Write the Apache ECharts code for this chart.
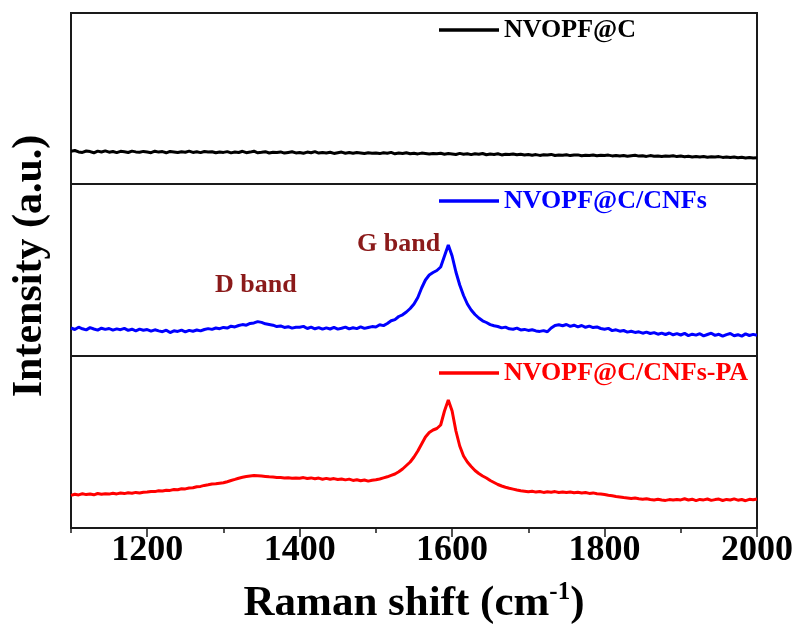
<!DOCTYPE html>
<html>
<head>
<meta charset="utf-8">
<script src="https://cdn.jsdelivr.net/npm/echarts@6/dist/echarts.min.js"></script>
<style>
  html, body { margin: 0; padding: 0; background: #fff; }
  #chart { width: 803px; height: 633px; }
</style>
</head>
<body>
<div id="chart"></div>
<script>
// Raman spectra, 1100-2000 cm-1 sampled every 5 cm-1
const shiftStart = 1100;
const shiftEnd = 2000;
const shiftStep = 5;

const seriesNames = ['NVOPF@C', 'NVOPF@C/CNFs', 'NVOPF@C/CNFs-PA'];

// intensity (a.u.), one value per 5 cm-1
const intensityNVOPF = [
  32.8, 33.5, 32.1, 31.6, 33.0, 32.4, 31.2, 32.9, 32.0, 33.1, 31.8, 32.5, 31.4, 32.7, 32.2, 31.5, 32.9, 32.1, 31.7, 32.6,
  32.0, 31.3, 32.8, 31.9, 32.4, 31.2, 32.6, 32.1, 31.5, 32.3, 31.8, 32.9, 31.6, 32.2, 31.4, 32.5, 31.9, 32.3, 31.2, 32.0,
  31.6, 32.4, 31.1, 32.0, 31.5, 32.7, 31.3, 31.9, 32.8, 31.2, 31.7, 32.3, 31.0, 31.8, 31.4, 32.1, 30.9, 31.6, 32.2, 31.1,
  31.5, 30.8, 31.9, 31.2, 32.4, 30.9, 31.6, 31.0, 31.8, 30.6, 31.3, 31.9, 30.8, 31.4, 30.7, 31.5, 31.1, 30.5, 31.2, 30.8,
  31.0, 30.4, 31.3, 30.7, 31.6, 30.2, 30.9, 30.5, 31.2, 30.3, 30.8, 30.1, 30.9, 30.4, 29.9, 30.6, 30.2, 30.8, 29.8, 30.4,
  30.0, 29.5, 30.6, 29.8, 30.2, 29.4, 30.3, 29.7, 30.5, 29.3, 29.9, 29.6, 30.2, 29.1, 29.8, 29.4, 30.0, 29.2, 29.7, 29.0,
  29.5, 28.8, 29.4, 28.6, 29.2, 28.9, 29.6, 28.5, 29.0, 28.7, 29.3, 28.4, 28.9, 29.1, 28.3, 28.8, 28.5, 29.0, 28.2, 28.7,
  28.4, 28.9, 28.1, 28.6, 28.0, 28.5, 27.8, 28.3, 28.7, 27.9, 28.2, 27.6, 28.4, 27.8, 28.1, 27.5, 28.0, 27.7, 28.3, 27.4,
  27.9, 27.3, 27.8, 27.1, 27.6, 27.0, 27.5, 26.8, 27.2, 26.9, 27.4, 26.6, 27.0, 26.4, 26.9, 26.2, 26.7, 26.0, 26.5, 25.9,
  26.2
];

const intensityCNFs = [
  28.0, 26.5, 28.8, 27.2, 26.1, 28.4, 27.0, 25.9, 27.8, 26.6, 27.5, 25.8, 27.1, 26.3, 27.6, 25.6, 26.8, 25.2, 26.9, 25.7,
  26.4, 24.9, 26.2, 25.1, 24.3, 25.8, 23.4, 25.2, 24.6, 25.9, 24.2, 25.6, 24.8, 26.0, 25.1, 26.5, 27.4, 26.6, 28.0, 27.3,
  28.6, 27.9, 29.8, 29.1, 30.5, 31.4, 30.8, 32.6, 33.1, 34.4, 33.6, 32.2, 31.5, 30.8, 29.4, 30.1, 28.6, 29.3, 27.9, 28.7,
  28.8, 29.6, 27.5, 28.9, 27.2, 28.4, 26.8, 28.1, 27.0, 28.6, 26.9, 27.8, 28.9, 27.1, 28.2, 27.4, 29.1, 27.6, 28.5, 29.4,
  29.0, 31.2, 30.4, 32.5, 35.2, 36.4, 39.5, 41.2, 44.0, 47.5, 52.0, 58.5, 68.0, 76.0, 81.0, 83.5, 85.5, 89.0, 100.0, 111.0,
  100.0, 84.0, 71.0, 60.5, 52.0, 46.0, 41.5, 38.0, 35.2, 33.5, 31.4, 30.2, 29.5, 28.1, 28.9, 27.2, 26.8, 27.9, 26.1, 26.6,
  25.6, 26.3, 25.1, 24.6, 25.4, 24.2, 28.0, 30.6, 31.2, 30.3, 31.5, 29.6, 30.8, 29.2, 30.5, 28.7, 29.9, 28.4, 29.1, 27.5,
  26.8, 27.6, 25.4, 26.2, 24.8, 25.5, 23.9, 24.7, 23.6, 24.2, 22.8, 23.9, 22.5, 23.4, 21.8, 22.9, 21.5, 23.0, 21.2, 22.4,
  21.0, 22.6, 20.4, 21.8, 20.9, 22.3, 20.1, 21.5, 22.8, 20.6, 21.7, 19.8, 21.4, 22.5, 20.2, 21.3, 19.9, 22.1, 20.5, 21.6,
  20.8
];

const intensityCNFsPA = [
  32.6, 33.8, 33.1, 34.2, 33.4, 34.0, 33.2, 34.5, 33.7, 34.3, 33.9, 34.8, 34.1, 35.0, 34.4, 35.2, 34.7, 35.6, 35.0, 35.8,
  36.0, 36.6, 36.4, 37.3, 37.0, 37.8, 37.6, 38.5, 38.3, 39.2, 39.1, 40.0, 40.2, 41.2, 41.6, 42.6, 43.2, 44.0, 44.3, 44.8,
  45.2, 46.3, 47.5, 48.6, 49.8, 50.7, 51.4, 52.0, 52.5, 52.3, 52.0, 51.6, 51.2, 50.9, 50.6, 50.4, 50.1, 50.3, 49.8, 50.0,
  49.8, 50.4, 49.5, 50.1, 49.2, 49.9, 48.8, 49.6, 48.7, 49.4, 48.5, 49.0, 48.1, 48.9, 47.6, 48.3, 47.2, 48.0, 46.9, 47.8,
  48.2, 49.0, 50.1, 51.2, 52.6, 54.0, 56.2, 59.0, 62.5, 66.0, 71.0, 77.0, 84.0, 91.0, 95.5, 98.0, 99.5, 103.0, 117.0, 128.0,
  117.0, 97.0, 82.0, 72.0, 66.0, 61.5, 57.5, 54.5, 52.0, 50.0, 47.5, 45.5, 43.5, 42.0, 40.8, 39.8, 38.9, 38.0, 37.2, 36.8,
  36.2, 36.8, 35.9, 36.5, 35.6, 36.3, 35.8, 36.4, 35.5, 36.1, 35.4, 36.0, 35.2, 35.8, 35.0, 35.5, 34.6, 35.1, 34.2, 34.0,
  33.5, 32.8, 32.2, 31.5, 31.0, 30.4, 30.1, 29.6, 29.9, 29.2, 28.8, 29.3, 28.5, 28.1, 28.7, 28.0, 27.6, 28.4, 27.9, 28.6,
  28.1, 29.2, 28.0, 28.8, 27.4, 28.6, 28.1, 29.0, 27.6, 28.4, 28.9, 27.5, 28.6, 28.0, 29.1, 27.8, 28.5, 27.3, 28.7, 28.2,
  28.9
];

const majorTicks = [1200, 1400, 1600, 1800, 2000];
const minorTicks = [1100, 1300, 1500, 1700, 1900];

const bandLabels = ['D band', 'G band'];

// wavenumber grid the spectra were sampled on
const ramanShift = [];
for (let v = shiftStart; v <= shiftEnd; v += shiftStep) ramanShift.push(v);

const pair = arr => ramanShift.map((x, i) => [x, arr[i]]);

const colors = ['#000000', '#0000ff', '#ff0000'];
const spectra = [intensityNVOPF, intensityCNFs, intensityCNFsPA];
const serif = '"Liberation Serif", "Times New Roman", serif';

// three stacked panels sharing one wavenumber axis
const panels = [
  { top: 13, height: 171 },
  { top: 184, height: 172 },
  { top: 356, height: 172 }
];

const grid = panels.map(p => ({
  left: 71, right: 46, top: p.top, height: p.height,
  show: true, borderColor: '#1a1a1a', borderWidth: 2, backgroundColor: 'transparent'
}));

const hiddenX = i => ({
  type: 'value', gridIndex: i, min: shiftStart, max: shiftEnd,
  axisLine: { show: false }, axisTick: { show: false },
  axisLabel: { show: false }, splitLine: { show: false }
});

const xAxis = [
  hiddenX(0),
  hiddenX(1),
  {
    type: 'value', gridIndex: 2, position: 'bottom', min: shiftStart, max: shiftEnd,
    axisLine: { show: true, lineStyle: { color: '#1a1a1a', width: 2 } },
    axisTick: { show: true, customValues: majorTicks, length: 9, lineStyle: { color: '#1a1a1a', width: 1.5 } },
    axisLabel: {
      show: true, customValues: majorTicks, margin: 5,
      formatter: v => String(v),
      fontFamily: serif, fontWeight: 'bold', fontSize: 36, color: '#000'
    },
    splitLine: { show: false }
  },
  {
    type: 'value', gridIndex: 2, position: 'bottom', offset: 0, min: shiftStart, max: shiftEnd,
    axisLine: { show: false },
    axisTick: { show: true, customValues: minorTicks, length: 5, lineStyle: { color: '#1a1a1a', width: 1.5 } },
    axisLabel: { show: false },
    splitLine: { show: false }
  }
];

const yAxis = panels.map((p, i) => ({
  type: 'value', gridIndex: i, min: 0, max: p.height, show: false
}));

const series = spectra.map((arr, i) => ({
  name: seriesNames[i], type: 'line', xAxisIndex: i, yAxisIndex: i,
  data: pair(arr), showSymbol: false, symbol: 'none', animation: false,
  lineStyle: { color: colors[i], width: 3 }, itemStyle: { color: colors[i] }
}));

const legend = panels.map((p, i) => ({
  data: [seriesNames[i]], left: 434, top: p.top - 1,
  icon: 'rect', itemWidth: 60, itemHeight: 3.5, itemGap: 5,
  textStyle: { fontFamily: serif, fontWeight: 'bold', fontSize: 26, color: colors[i] },
  selectedMode: false
}));

const option = {
  backgroundColor: '#fff',
  animation: false,
  grid, xAxis, yAxis, series, legend,
  graphic: [
    {
      type: 'text', left: 215, top: 272,
      style: { text: bandLabels[0], font: 'bold 26px ' + serif, fill: '#8b1a1a' }
    },
    {
      type: 'text', left: 357, top: 231,
      style: { text: bandLabels[1], font: 'bold 26px ' + serif, fill: '#8b1a1a' }
    },
    {
      type: 'text', x: 30, y: 266, rotation: Math.PI / 2,
      style: {
        text: 'Intensity (a.u.)', font: 'bold 42px ' + serif, fill: '#000',
        align: 'center', verticalAlign: 'middle'
      }
    },
    {
      type: 'text', x: 414, y: 604,
      style: {
        text: '{t|Raman shift (cm}{s|-1}{t|)}',
        align: 'center', verticalAlign: 'middle',
        rich: {
          t: { fontFamily: serif, fontWeight: 'bold', fontSize: 43, fill: '#000', lineHeight: 48 },
          s: { fontFamily: serif, fontWeight: 'bold', fontSize: 25, fill: '#000', verticalAlign: 'top', lineHeight: 48 }
        }
      }
    }
  ]
};

const chart = echarts.init(document.getElementById('chart'), null, { renderer: 'canvas' });
chart.setOption(option);
</script>
</body>
</html>
